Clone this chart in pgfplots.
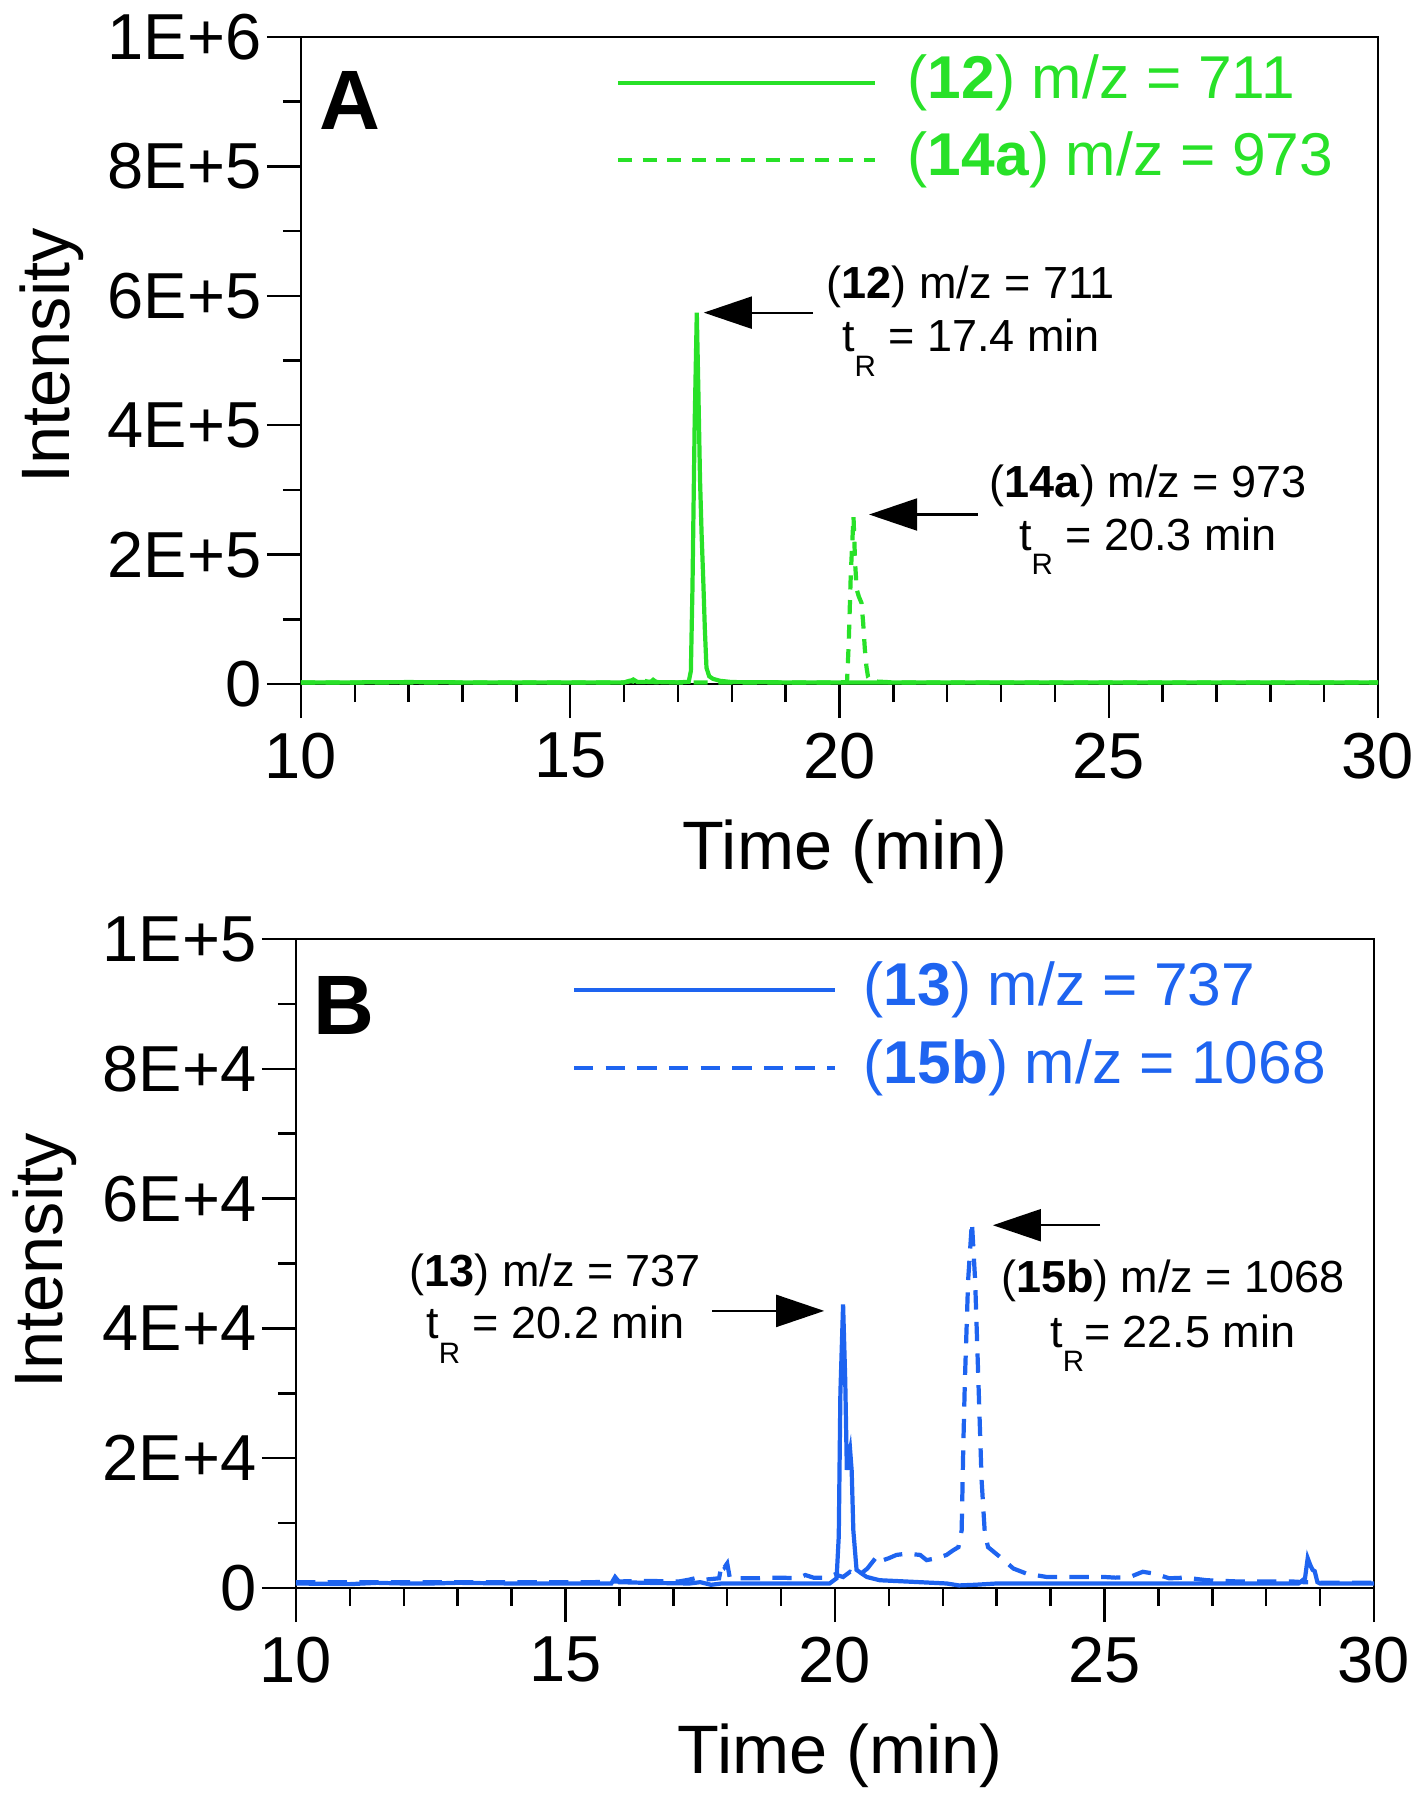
\documentclass[border=0pt]{standalone}
\usepackage{pgfplots}
\pgfplotsset{compat=1.18}
\usepackage{fontspec}
\setmainfont{Liberation Sans}
\usetikzlibrary{arrows.meta}
\definecolor{msgreen}{RGB}{40,225,40}
\definecolor{msblue}{RGB}{30,100,240}
\newcommand{\tR}{t\raisebox{-0.55em}{\fontsize{8.4}{9}\selectfont R}}
\newcommand{\annfont}{\fontsize{12.8}{14}\selectfont}
\newcommand{\legfont}{\fontsize{17.2}{19}\selectfont}

\pgfplotsset{chrom/.style={
  scale only axis, width=10.77cm, height=6.47cm,
  xmin=10, xmax=30, xtick={10,15,20,25,30}, minor x tick num=4,
  tick align=outside, xtick pos=bottom, ytick pos=left,
  major tick length=0.34cm, minor tick length=0.18cm,
  axis line style={line width=0.7pt},
  every tick/.style={black, line width=0.7pt},
  scaled y ticks=false,
  /pgf/number format/assume math mode=true,
  tick label style={font=\fontsize{18.5}{20}\selectfont},
  xticklabel style={inner sep=0pt, anchor=north, yshift=-0.14cm},
  yticklabel style={inner sep=0pt, anchor=east, xshift=-0.05cm},
  label style={font=\fontsize{19.5}{21}\selectfont},
  xlabel={Time (min)}, ylabel={Intensity},
  xlabel style={at={(axis description cs:0.505,-0.286)}, anchor=base},
  ylabel style={at={(axis description cs:-0.2154,0.507)}, anchor=base},
  clip mode=individual,
}}

\begin{document}
\begin{tikzpicture}
\path[use as bounding box] (0,0) rectangle (14.24,-18);

% panel A
\begin{axis}[chrom, at={(3.01cm,-6.84cm)}, anchor=south west,
  ymin=0, ymax=1e6, ytick={0,2e5,4e5,6e5,8e5,1e6}, minor y tick num=1,
  yticklabels={0,2E+5,4E+5,6E+5,8E+5,1E+6}]
\addplot[msgreen, line width=1.2pt] coordinates {
(10,2500) (11,2500) (12,3000) (13,2500) (14,2500) (15,2500) (16,2500)
(16.1,4000) (16.17,7000) (16.25,3000) (16.5,3500) (16.54,6500) (16.6,3000)
(17.0,2500) (17.2,3500) (17.24,20000) (17.27,150000) (17.31,400000)
(17.35,574000) (17.38,450000) (17.41,316000) (17.44,230000) (17.47,161000)
(17.50,84000) (17.53,25000) (17.58,12000) (17.65,8000) (17.78,5000)
(18,3000) (19,2500) (20,2500) (22,2500) (24,2500) (26,2500) (28,2500) (30,2500)
};
\addplot[msgreen, line width=1.2pt, dash pattern=on 4pt off 3pt] coordinates {
(10,2500) (15,2500) (16.0,2500) (16.1,5000) (16.2,3000) (16.35,6000) (16.45,3000)
(17,2500) (18,2500) (20.0,2500) (20.14,3000) (20.17,60000) (20.21,170000)
(20.26,259000) (20.29,187000) (20.32,146000) (20.36,135000) (20.41,125000)
(20.44,94000) (20.47,55000) (20.50,27000) (20.53,11000) (20.58,5000)
(20.65,4000) (21,2500) (25,2500) (30,2500)
};
\node[font=\fontsize{24}{26}\selectfont\bfseries] at (axis description cs:0.0455,0.9025) {A};
\draw[msgreen, line width=1.2pt] (axis description cs:0.2943,0.9288) -- (axis description cs:0.5330,0.9288);
\draw[msgreen, line width=1.2pt, dash pattern=on 4pt off 3pt] (axis description cs:0.2943,0.8096) -- (axis description cs:0.5330,0.8096);
\node[msgreen, font=\legfont, anchor=west, inner sep=0pt] at (axis description cs:0.5627,0.9288) {(\textbf{12}) m/z = 711};
\node[msgreen, font=\legfont, anchor=west, inner sep=0pt] at (axis description cs:0.5627,0.8096) {(\textbf{14a}) m/z = 973};
\draw[line width=0.6pt, -{Triangle[length=0.48cm,width=0.32cm]}] (axis cs:19.51,5.74e5) -- (axis cs:17.48,5.74e5);
\node[font=\annfont, anchor=base] at (axis cs:22.44,5.96e5) {(\textbf{12}) m/z = 711};
\node[font=\annfont, anchor=base] at (axis cs:22.44,5.14e5) {\tR{} = 17.4 min};
\draw[line width=0.6pt, -{Triangle[length=0.48cm,width=0.32cm]}] (axis cs:22.57,2.62e5) -- (axis cs:20.55,2.62e5);
\node[font=\annfont, anchor=base] at (axis cs:25.73,2.88e5) {(\textbf{14a}) m/z = 973};
\node[font=\annfont, anchor=base] at (axis cs:25.73,2.07e5) {\tR{} = 20.3 min};
\end{axis}

% panel B
\begin{axis}[chrom, at={(2.96cm,-15.88cm)}, anchor=south west,
  width=10.78cm, height=6.49cm,
  ymin=0, ymax=1e5, ytick={0,2e4,4e4,6e4,8e4,1e5}, minor y tick num=1,
  yticklabels={0,2E+4,4E+4,6E+4,8E+4,1E+5},
  ylabel style={at={(axis description cs:-0.217,0.504)}}]
\addplot[msblue, line width=1.2pt] coordinates {
(10,700) (11,600) (11.5,800) (12,700) (12.5,700) (13,800) (14,700) (15,700)
(15.85,700) (15.92,1700) (16.0,900) (16.5,800) (17.3,700) (17.5,900) (17.7,500)
(17.9,700) (19.0,700) (19.9,700) (20.03,1500) (20.07,8000) (20.1,30000)
(20.15,43700) (20.19,32000) (20.22,18200) (20.25,20000) (20.28,21300)
(20.31,18000) (20.34,8900) (20.40,2800) (20.5,2200) (20.59,1700) (20.83,1200)
(21.33,1000) (22.07,700) (22.3,400) (22.6,500) (23,700) (25,700) (27,700)
(28.6,700) (28.72,1500) (28.77,4600) (28.82,3500) (28.86,2800) (28.9,2600)
(28.95,900) (29,700) (30,700)
};
\addplot[msblue, line width=1.2pt, dash pattern=on 5.5pt off 3.5pt] coordinates {
(10,900) (12,900) (14,900) (15,900) (15.5,900) (16.4,1100) (16.6,1100)
(16.9,1000) (17.1,1000) (17.3,1300) (17.45,1600) (17.6,1300) (17.85,1500)
(17.9,3800) (17.95,3200) (18.0,3800) (18.05,1500) (18.4,1500) (18.6,1500)
(18.8,1600) (19.0,1600) (19.3,1500) (19.45,2000) (19.6,1600) (19.85,1600)
(20.0,2100) (20.15,1700) (20.28,2500) (20.45,2000) (20.6,3000) (20.77,4800)
(20.83,4100) (21.0,4600) (21.14,5100) (21.33,5300) (21.58,5100) (21.70,4300)
(21.89,4600) (22.07,5100) (22.19,5800) (22.29,6300) (22.35,8900) (22.38,21700)
(22.41,32000) (22.47,47400) (22.54,56400) (22.60,47400) (22.66,32000)
(22.72,16600) (22.78,8400) (22.84,6300) (23.06,4800) (23.31,3000) (23.56,2200)
(23.93,1700) (24.55,1700) (25.0,1700) (25.2,1600) (25.47,1700) (25.71,2500)
(25.94,2200) (26.2,1500) (26.5,1600) (26.9,1200) (27.5,1000) (28,1000)
(28.5,1000) (28.7,900) (29,800) (30,800)
};
\node[font=\fontsize{24}{26}\selectfont\bfseries] at (axis description cs:0.0445,0.898) {B};
\draw[msblue, line width=1.2pt] (axis description cs:0.2579,0.9214) -- (axis description cs:0.5,0.9214);
\draw[msblue, line width=1.2pt, dash pattern=on 5.5pt off 3.5pt] (axis description cs:0.2579,0.8012) -- (axis description cs:0.5,0.8012);
\node[msblue, font=\legfont, anchor=west, inner sep=0pt] at (axis description cs:0.526,0.9214) {(\textbf{13}) m/z = 737};
\node[msblue, font=\legfont, anchor=west, inner sep=0pt] at (axis description cs:0.526,0.8012) {(\textbf{15b}) m/z = 1068};
\draw[line width=0.6pt, -{Triangle[length=0.48cm,width=0.32cm]}] (axis cs:17.72,4.27e4) -- (axis cs:19.80,4.27e4);
\node[font=\annfont, anchor=base] at (axis cs:14.81,4.65e4) {(\textbf{13}) m/z = 737};
\node[font=\annfont, anchor=base] at (axis cs:14.81,3.84e4) {\tR{} = 20.2 min};
\draw[line width=0.6pt, -{Triangle[length=0.48cm,width=0.32cm]}] (axis cs:24.92,5.59e4) -- (axis cs:22.93,5.59e4);
\node[font=\annfont, anchor=base] at (axis cs:26.27,4.56e4) {(\textbf{15b}) m/z = 1068};
\node[font=\annfont, anchor=base] at (axis cs:26.27,3.71e4) {\tR{}= 22.5 min};
\end{axis}
\end{tikzpicture}
\end{document}
